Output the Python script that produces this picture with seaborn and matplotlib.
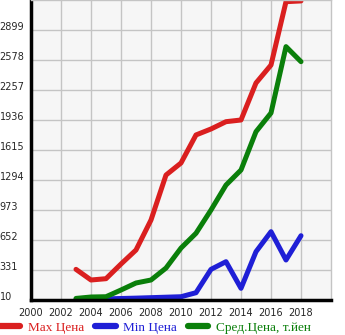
import matplotlib
matplotlib.use("Agg")
import matplotlib.pyplot as plt
import seaborn as sns
import pandas as pd

years = list(range(2003, 2019))
max_price = [338, 224, 238, 395, 545, 866, 1347, 1476, 1776, 1840, 1918, 1936, 2332, 2524, 3202, 3210]
min_price = [15, 18, 22, 26, 30, 35, 40, 45, 88, 338, 420, 135, 527, 741, 438, 698]
avg_price = [27, 42, 45, 117, 192, 224, 352, 566, 724, 973, 1240, 1401, 1811, 2011, 2721, 2560]

series_names = ["Max Цена", "Min Цена", "Сред.Цена, т.йен"]
series_colors = ["#da1f1f", "#1f1fd6", "#0a7f0a"]
y_ticks = [10, 331, 652, 973, 1294, 1615, 1936, 2257, 2578, 2899]
x_ticks = list(range(2000, 2019, 2))

df = pd.concat([
    pd.DataFrame({"year": years, "price": vals, "series": name})
    for name, vals in zip(series_names, [max_price, min_price, avg_price])
])

sns.set_style("white")
plt.rcParams["font.family"] = ["DejaVu Sans"]

fig = plt.figure(figsize=(3.45, 3.35), dpi=100)
ax = fig.add_axes([31 / 345, 35 / 335, 300 / 345, 300 / 335])
ax.set_facecolor("#f6f6f6")

sns.lineplot(data=df, x="year", y="price", hue="series", hue_order=series_names,
             palette=series_colors, linewidth=3.6, ax=ax, legend=False,
             solid_capstyle="round", solid_joinstyle="round")

ax.set_xlim(2000, 2020)
ax.set_ylim(10, 3220)
ax.set_xticks(x_ticks)
ax.set_yticks(y_ticks)
ax.set_xticklabels([str(v) for v in x_ticks])
ax.set_yticklabels([str(v) for v in y_ticks])
ax.set_xlabel("")
ax.set_ylabel("")

ax.grid(True, color="#c4c4c4", linewidth=1.0)
ax.set_axisbelow(True)

for side in ["top", "right"]:
    ax.spines[side].set_color("#c4c4c4")
    ax.spines[side].set_linewidth(1.0)
for side in ["left", "bottom"]:
    ax.spines[side].set_color("black")
    ax.spines[side].set_linewidth(2.5)

ax.tick_params(axis="x", length=3, width=1, color="black", pad=3, labelsize=7.0)
ax.tick_params(axis="y", length=3, width=1, color="black", pad=19.5, labelsize=7.0)
for lab in ax.get_yticklabels():
    lab.set_horizontalalignment("left")
    lab.set_verticalalignment("baseline")

handles = [plt.Line2D([], [], color=c, linewidth=4.5, solid_capstyle="round") for c in series_colors]
leg = fig.legend(handles, series_names, loc="lower left", bbox_to_anchor=(0.0, 0.004),
                 ncol=3, frameon=False, handlelength=1.55, handletextpad=0.55,
                 columnspacing=0.85, borderpad=0.0, borderaxespad=0.0,
                 prop={"family": "Liberation Serif", "size": 9.5})
for txt, c in zip(leg.get_texts(), series_colors):
    txt.set_color(c)

fig.savefig("out.png", dpi=100)
